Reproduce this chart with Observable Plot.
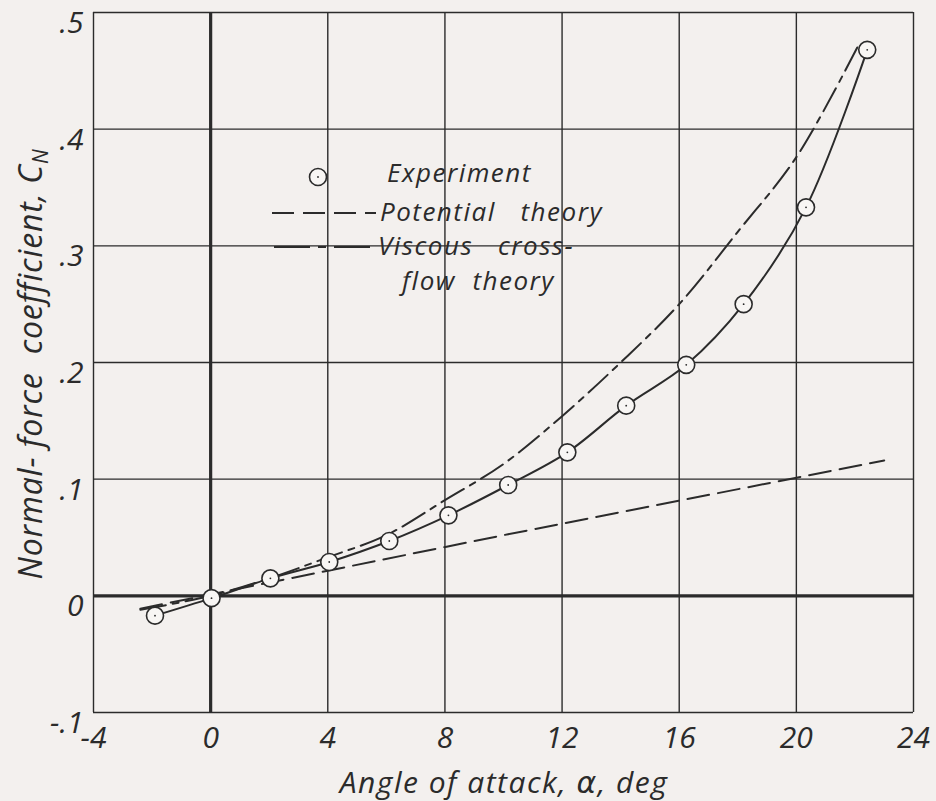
<!DOCTYPE html>
<html>
<head>
<meta charset="utf-8">
<script src="https://cdn.jsdelivr.net/npm/d3@7"></script>
<script src="https://cdn.jsdelivr.net/npm/@observablehq/plot@0.6"></script>
<style>
  html, body { margin: 0; padding: 0; background: #f3f0ee; }
  #chart svg { display: block; }
</style>
</head>
<body>
<div id="chart"></div>
<script>
// ---- data ----
const xTicks = [-4, 0, 4, 8, 12, 16, 20, 24];
const yTicks = [-0.1, 0, 0.1, 0.2, 0.3, 0.4, 0.5];
const yTickLabels = ["-.1", "0", ".1", ".2", ".3", ".4", ".5"];

const expAlpha = [-1.9, 0.03, 2.04, 4.05, 6.1, 8.12, 10.16, 12.18, 14.19, 16.24, 18.2, 20.33, 22.42];
const expCN    = [-0.017, -0.002, 0.015, 0.029, 0.047, 0.069, 0.095, 0.123, 0.163, 0.198, 0.250, 0.333, 0.468];

const potAlpha = [-2.4, 10, 23.0];
const potCN    = [-0.011, 0.052, 0.116];

const viscAlpha = [-2.4, 0, 2, 4, 6, 8, 10, 12, 14, 16, 18, 20, 22.1];
const viscCN    = [-0.012, 0.0, 0.015, 0.033, 0.052, 0.082, 0.113, 0.154, 0.200, 0.250, 0.312, 0.376, 0.471];

const ink = "#2b2b2b";
const exp = expAlpha.map((a, i) => ({a, cn: expCN[i]}));
const pot = potAlpha.map((a, i) => ({a, cn: potCN[i]}));
const visc = viscAlpha.map((a, i) => ({a, cn: viscCN[i]}));

const font = "'Open Sans', 'DejaVu Sans', sans-serif";

const chart = Plot.plot({
  width: 936,
  height: 801,
  marginLeft: 93,
  marginRight: 23,
  marginTop: 12,
  marginBottom: 89,
  style: { background: "#f3f0ee", fontFamily: font, color: ink },
  x: { domain: [-4, 24] },
  y: { domain: [-0.1, 0.5] },
  marks: [
    Plot.ruleX(xTicks, { stroke: ink, strokeWidth: 1.4 }),
    Plot.ruleY(yTicks, { stroke: ink, strokeWidth: 1.4 }),
    Plot.ruleX([0], { stroke: ink, strokeWidth: 3.2 }),
    Plot.ruleY([0], { stroke: ink, strokeWidth: 3.2 }),
    Plot.line(pot, { x: "a", y: "cn", stroke: ink, strokeWidth: 2, strokeDasharray: "22,9" }),
    Plot.line(visc, { x: "a", y: "cn", stroke: ink, strokeWidth: 2, strokeDasharray: "26,7,6,7", curve: "catmull-rom" }),
    Plot.line(exp, { x: "a", y: "cn", stroke: ink, strokeWidth: 2, curve: "catmull-rom" }),
    Plot.dot(exp, { x: "a", y: "cn", r: 8.5, fill: "#f8f6f4", stroke: ink, strokeWidth: 1.6 }),
    Plot.dot(exp, { x: "a", y: "cn", r: 0.9, fill: ink, stroke: null }),
    Plot.axisX(xTicks, {
      tickSize: 0, tickPadding: 14, fontSize: 30, fontStyle: "italic",
      label: null, tickFormat: d => String(d)
    }),
    Plot.axisY(yTicks, {
      tickSize: 0, tickPadding: 10, dy: 11, fontSize: 30, fontStyle: "italic",
      label: null, tickFormat: d => yTickLabels[yTicks.indexOf(d)]
    })
  ]
});

document.getElementById("chart").appendChild(chart);

// ---- titles and legend ----
const svg = d3.select(chart);
svg.selectAll("[aria-label='x-axis tick label'] text, [aria-label='y-axis tick label'] text")
  .attr("fill", ink);

// x title
const xt = svg.append("text")
  .attr("x", 504).attr("y", 793)
  .attr("text-anchor", "middle")
  .attr("font-family", font).attr("font-style", "italic").attr("font-size", 30)
  .attr("letter-spacing", 1.5)
  .attr("fill", ink);
xt.append("tspan").text("Angle of attack, ");
xt.append("tspan").attr("font-family", "'DejaVu Sans', sans-serif").text("\u03B1");
xt.append("tspan").text(", deg");

// y title
const yt = svg.append("text")
  .attr("transform", "translate(42,364) rotate(-90)")
  .attr("text-anchor", "middle")
  .attr("font-family", font).attr("font-style", "italic").attr("font-size", 32)
  .attr("letter-spacing", 0.8)
  .attr("fill", ink);
yt.append("tspan").attr("xml:space", "preserve").text("Normal- force  coefficient, C");
yt.append("tspan").attr("font-size", 21).attr("dy", 6).text("N");

// legend
const lg = svg.append("g").attr("font-family", font).attr("font-style", "italic")
  .attr("font-size", 26).attr("letter-spacing", 1.5).attr("fill", ink).attr("text-anchor", "start");
lg.append("circle").attr("cx", 318).attr("cy", 177).attr("r", 8.5)
  .attr("fill", "#f8f6f4").attr("stroke", ink).attr("stroke-width", 1.6);
lg.append("circle").attr("cx", 318).attr("cy", 177).attr("r", 0.9).attr("fill", ink);
lg.append("text").attr("x", 387).attr("y", 182).text("Experiment");

lg.append("line").attr("x1", 272).attr("x2", 376).attr("y1", 213).attr("y2", 213)
  .attr("stroke", ink).attr("stroke-width", 2).attr("stroke-dasharray", "22,9");
lg.append("text").attr("x", 380).attr("y", 221).attr("xml:space", "preserve").text("Potential   theory");

lg.append("line").attr("x1", 274).attr("x2", 376).attr("y1", 247).attr("y2", 247)
  .attr("stroke", ink).attr("stroke-width", 2).attr("stroke-dasharray", "36,8,8,8");
lg.append("text").attr("x", 378).attr("y", 255).attr("xml:space", "preserve").text("Viscous   cross-");
lg.append("text").attr("x", 402).attr("y", 290).attr("xml:space", "preserve").text("flow  theory");
</script>
</body>
</html>
